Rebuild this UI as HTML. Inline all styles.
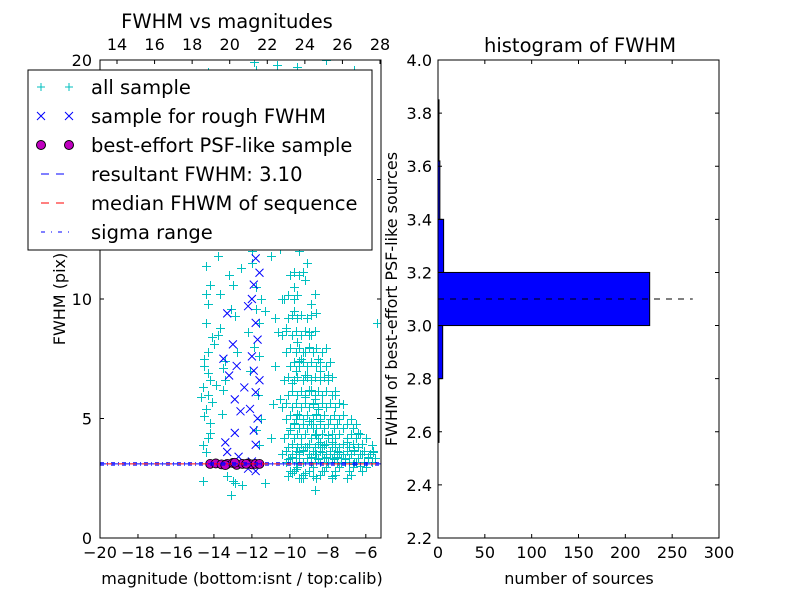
<!DOCTYPE html>
<html><head><meta charset="utf-8"><style>
body{margin:0;background:#fff}
svg{display:block;font-family:"DejaVu Sans","Liberation Sans",sans-serif}
</style></head><body>
<svg id="c" width="800" height="600"></svg>
<script>
// ---- left scatter data (magnitude, fwhm)
const allMag=[-14.4,-14.3,-14.2,-14.4,-14.3,-14.2,-14.5,-14.3,-14.1,-14.4,-14.3,-14.2,-14.4,-14.0,-14.3,-14.5,-14.2,-14.4,-14.1,-14.3,-13.8,-13.5,-13.2,-13.9,-13.4,-13.1,-13.6,-13.0,-12.8,-13.7,-12.6,-12.2,-12.0,-11.8,-11.6,-11.9,-12.1,-11.7,-11.5,-11.8,-12.0,-11.6,-11.9,-11.7,-11.8,-12.1,-11.6,-11.9,-11.3,-11.0,-10.8,-11.2,-10.6,-10.9,-10.4,-10.2,-10.0,-9.8,-9.6,-9.4,-9.2,-9.0,-8.8,-8.6,-8.4,-8.2,-8.0,-7.8,-7.6,-7.4,-10.1,-9.9,-9.7,-9.5,-9.3,-9.1,-8.9,-8.7,-8.5,-8.3,-8.1,-7.9,-7.7,-7.5,-7.3,-7.1,-6.9,-6.7,-6.5,-6.3,-10.0,-9.8,-9.6,-9.4,-9.2,-9.0,-8.8,-8.6,-8.4,-8.2,-9.9,-9.7,-9.5,-9.3,-9.1,-8.9,-8.7,-8.5,-10.2,-9.6,-9.0,-8.4,-9.8,-9.2,-8.6,-9.5,-9.1,-8.7,-9.9,-9.4,-8.9,-10.3,-9.7,-9.3,-7.0,-6.6,-6.2,-5.9,-5.6,-6.8,-6.4,-6.0,-5.7,-7.2,-8.0,-8.5,-9.0,-7.6,-10.5,-10.8,-11.0,-9.7,-9.2,-8.8,-10.0,-9.5,-13.0,-12.9,-13.3,-10.7,-9.6,-8.1,-7.2,-6.6,-5.4,-9.0,-11.3,-13.1,-12.5,-10.1,-9.3,-8.7,-9.9,-8.2,-7.8,-9.4,
-14.6,-14.2,-14.5,-14.1,-14.6,-14.3,-14.5,-14.0,-13.7,-13.9,-13.5,-14.7,-14.6,-14.4,-13.8,-13.6,-12.9,-12.4,-12.7,-13.2,-11.5,-11.7,-11.9,-11.6,-12.0,-11.8,-11.4,-11.7,-11.9,-11.5,-11.8,-12.2,-11.6,-13.4,-12.6,-13.0,-10.5,-11.1,-10.2,-12.3,-13.6,-10.9];
const allFwhm=[3.6,4.2,4.8,5.4,6.0,6.6,7.2,7.8,8.4,9.0,9.8,10.6,11.4,12.3,13.2,14.1,15.2,16.5,18.0,19.5,8.5,6.2,11.0,13.5,7.4,9.6,5.2,15.0,7.8,10.2,18.5,14.0,12.0,10.5,9.0,8.0,7.0,6.0,5.0,4.5,11.5,13.0,16.0,17.5,19.6,15.5,3.9,19.9,9.5,11.8,7.2,14.6,8.6,5.6,10.0,12.5,11.0,9.5,8.2,7.5,6.8,6.2,5.6,5.2,4.9,4.6,4.3,4.0,3.8,3.6,3.3,3.4,3.5,3.6,3.7,3.8,3.4,3.5,3.3,3.6,3.4,3.5,3.3,3.4,3.2,3.3,3.2,3.1,3.2,3.0,4.5,4.8,5.2,5.5,5.9,4.9,4.6,4.3,4.0,3.9,6.5,7.0,7.4,7.8,6.8,6.2,5.8,5.4,8.8,9.2,8.0,7.0,10.5,10.8,9.4,12.0,11.5,10.2,13.5,12.8,9.8,14.5,16.2,18.5,4.0,3.7,3.5,3.4,3.6,5.0,4.4,4.2,3.9,5.6,6.8,7.5,8.6,6.0,5.8,9.2,4.2,2.9,2.7,2.6,2.8,2.5,2.4,2.3,2.6,19.8,19.7,20.0,16.8,19.6,9.0,8.5,2.3,1.8,2.2,2.6,2.5,2.0,2.7,2.8,2.6,2.5,2.4,
4.4,5.1,5.7,6.3,6.9,7.5,8.1,8.8,6.4,7.1,5.9,3.9,10.2,11.8,12.6,9.3,12.8,14.6,16.3,17.2,12.8,13.6,14.4,15.1,16.8,17.9,18.6,19.2,10.0,9.6,8.6,7.6,6.6,11.3,10.6,12.1,13.0,16.1,15.4,17.0,12.4,17.8];
// dense blob rows: each row shares one FWHM value
const blobF=[2.5,2.8,3.2,3.5,3.8,4.2,4.6,5.0,5.5,6.0,6.6,7.2,7.8,8.5,9.2,10.0,11.0];
const blobM=[[-9.5,-8.6,-7.8,-7.0],[-9.8,-9.0,-8.3,-7.6,-6.9,-6.2],[-10.2,-9.7,-9.3,-8.9,-8.4,-8.0,-7.5,-7.1,-6.6,-6.1,-5.7],[-10.4,-9.9,-9.5,-9.0,-8.6,-8.1,-7.7,-7.2,-6.8,-6.3,-5.8],[-10.1,-9.6,-9.2,-8.7,-8.3,-7.8,-7.4,-6.9,-6.4],[-10.3,-9.8,-9.4,-8.9,-8.5,-8.0,-7.6,-7.0,-6.5],[-10.0,-9.5,-9.1,-8.6,-8.2,-7.7,-7.2,-6.7],[-10.2,-9.7,-9.3,-8.8,-8.4,-7.9,-7.4],[-10.4,-9.9,-9.4,-9.0,-8.5,-8.1,-7.6],[-10.1,-9.6,-9.2,-8.7,-8.3,-7.8],[-10.3,-9.8,-9.3,-8.9,-8.4,-8.0],[-10.0,-9.5,-9.1,-8.6,-8.1],[-10.2,-9.7,-9.2,-8.8,-8.3],[-10.4,-9.9,-9.4,-8.9],[-10.1,-9.6,-9.1],[-10.3,-9.8],[-10.0,-9.5]];
const roughMag=[-13.5,-13.2,-12.9,-13.3,-12.6,-12.9,-13.4,-12.4,-12.8,-13.0,-13.3,-12.7,-12.2,-12.0,-11.8,-11.9,-11.7,-12.1,-11.8,-11.6,-11.9,-12.0,-11.7,-11.8,-12.2,-11.9,-11.6,-11.8,-12.0,-11.7,-11.9,-12.1,-11.8,-11.7,-12.0,-11.8];
const roughFwhm=[7.5,6.8,5.8,9.4,5.3,4.4,4.0,6.3,7.2,8.1,3.6,3.4,2.9,3.2,3.9,4.5,5.0,5.4,6.1,6.6,7.0,7.6,8.3,9.0,9.7,10.6,11.1,11.7,12.4,13.3,14.0,14.7,15.5,13.0,10.0,2.8];
const bestMag=[-14.2,-13.9,-13.6,-13.3,-13.0,-12.8,-12.5,-12.2,-12.0,-11.8,-11.6,-13.4,-12.9,-12.3];
const bestFwhm=[3.1,3.12,3.08,3.1,3.14,3.06,3.1,3.12,3.08,3.1,3.1,3.05,3.15,3.1];
const resultantFWHM=3.10;
// ---- histogram data
const binLo=[2.56,2.8,3.0,3.2,3.4,3.62];
const binHi=[2.8,3.0,3.2,3.4,3.62,3.85];
const binCount=[1,5,226,6,2,1];
const xTickL=[-20,-18,-16,-14,-12,-10,-8,-6];
const yTickL=[0,5,10,15,20];
const topTick=[14,16,18,20,22,24,26,28];
const xTickR=[0,50,100,150,200,250,300];
const yTickR=[2.2,2.4,2.6,2.8,3.0,3.2,3.4,3.6,3.8,4.0];

const S=document.getElementById('c'),NS='http://www.w3.org/2000/svg';
function el(t,a,p){const e=document.createElementNS(NS,t);for(const k in a)e.setAttribute(k,a[k]);(p||S).appendChild(e);return e;}
const L={x0:100,x1:381,y0:60,y1:538};
const lx=m=>L.x0+(m+20)*(L.x1-L.x0)/14.8, ly=f=>L.y1-f*(L.y1-L.y0)/20;
const tx=v=>117+(v-14)*(380-117)/14;
const cp=el('clipPath',{id:'cl'});el('rect',{x:L.x0,y:L.y0,width:L.x1-L.x0,height:L.y1-L.y0},cp);
const gL=el('g',{'clip-path':'url(#cl)'});
function plus(m,f){const x=Math.round(lx(m))+0.5,y=Math.round(ly(f))+0.5;
 const p=el('path',{d:`M${x-4.5},${y}H${x+4.5}M${x},${y-4.5}V${y+4.5}`,stroke:'#00bfbf','stroke-width':1},gL);
 }
for(let i=0;i<allMag.length;i++)plus(allMag[i],allFwhm[i]);
for(let r=0;r<blobF.length;r++)for(const m of blobM[r]){plus(m,blobF[r]);plus(m+0.2,blobF[r]+0.15);}
for(let i=0;i<roughMag.length;i++){const x=lx(roughMag[i]),y=ly(roughFwhm[i]);
 const p=el('path',{d:`M${x-4},${y-4}L${x+4},${y+4}M${x-4},${y+4}L${x+4},${y-4}`,stroke:'#0000ff','stroke-width':1},gL);
 }
for(let i=0;i<bestMag.length;i++){const c=el('circle',{cx:lx(bestMag[i]),cy:ly(bestFwhm[i]),r:4.5,fill:'#bf00bf',stroke:'#000','stroke-width':0.8},gL);
 }
let ln=el('line',{x1:L.x0,x2:L.x1,y1:ly(resultantFWHM),y2:ly(resultantFWHM),stroke:'#f00','stroke-dasharray':'6,6','stroke-dashoffset':6},gL);

ln=el('line',{x1:L.x0,x2:L.x1,y1:ly(resultantFWHM),y2:ly(resultantFWHM),stroke:'#00f','stroke-dasharray':'6,6'},gL);

for(const d of [-0.05,0.05]){ln=el('line',{x1:L.x0,x2:L.x1,y1:ly(resultantFWHM+d),y2:ly(resultantFWHM+d),stroke:'#00f','stroke-dasharray':'4,3,1,3'},gL);
 }
el('rect',{x:L.x0,y:L.y0,width:L.x1-L.x0,height:L.y1-L.y0,fill:'none',stroke:'#000'});
function txt(x,y,s,o){const t=el('text',Object.assign({x:x,y:y,'font-size':16,'text-anchor':'middle',fill:'#000'},o||{}));t.textContent=s;return t;}
xTickL.forEach(v=>{const x=lx(v);el('path',{d:`M${x},${L.y1}v-4`,stroke:'#000'});txt(x,558,v<0?'\u2212'+(-v):v);});
yTickL.forEach(v=>{const y=ly(v);el('path',{d:`M${L.x0},${y}h4M${L.x1},${y}h-4`,stroke:'#000'});txt(92,y+6,v,{'text-anchor':'end'});});
topTick.forEach(v=>{const x=tx(v);el('path',{d:`M${x},${L.y0}v4`,stroke:'#000'});txt(x,50,v);});
let t=txt(227,28,'FWHM vs magnitudes',{'font-size':19.5});
t=txt(242,584,'magnitude (bottom:isnt / top:calib)');
t=txt(0,0,'FWHM (pix)',{transform:'translate(65,299) rotate(-90)'});
const lg=el('g',{});
el('rect',{x:28,y:70,width:344,height:180,fill:'#fff',stroke:'#000'},lg);
const labs=['all sample','sample for rough FWHM','best-effort PSF-like sample','resultant FWHM: 3.10','median FHWM of sequence','sigma range'];
labs.forEach((s,i)=>{const y=87+i*29;
 if(i==0)[41,69].forEach(x=>el('path',{d:`M${x-4},${y}H${x+4}M${x},${y-4}V${y+4}`,stroke:'#00bfbf'},lg));
 if(i==1)[41,69].forEach(x=>el('path',{d:`M${x-4},${y-4}L${x+4},${y+4}M${x-4},${y+4}L${x+4},${y-4}`,stroke:'#00f'},lg));
 if(i==2)[41,69].forEach(x=>el('circle',{cx:x,cy:y,r:4.5,fill:'#bf00bf',stroke:'#000'},lg));
 if(i==3)el('line',{x1:41,x2:69,y1:y,y2:y,stroke:'#00f','stroke-dasharray':'8,7'},lg);
 if(i==4)el('line',{x1:41,x2:69,y1:y,y2:y,stroke:'#f00','stroke-dasharray':'8,7'},lg);
 if(i==5)el('line',{x1:41,x2:69,y1:y,y2:y,stroke:'#00f','stroke-dasharray':'4,6,1,6'},lg);
 const e=txt(91,y+7,s,{'text-anchor':'start','font-size':19.5});lg.appendChild(e);
 });
const R={x0:438,x1:719,y0:60,y1:538};
const rx=n=>R.x0+n*(R.x1-R.x0)/300, ry=f=>R.y1-(f-2.2)*(R.y1-R.y0)/1.8;
for(let i=0;i<binCount.length;i++){const b=el('rect',{x:R.x0,y:ry(binHi[i]),width:Math.max(rx(binCount[i])-R.x0,1),height:ry(binLo[i])-ry(binHi[i]),fill:'#0000ff',stroke:'#000'});
 }
ln=el('line',{x1:R.x0,x2:rx(272),y1:ry(resultantFWHM),y2:ry(resultantFWHM),stroke:'#000','stroke-dasharray':'6,6'});

el('rect',{x:R.x0,y:R.y0,width:R.x1-R.x0,height:R.y1-R.y0,fill:'none',stroke:'#000'});
xTickR.forEach(v=>{const x=rx(v);el('path',{d:`M${x},${R.y1}v-4M${x},${R.y0}v4`,stroke:'#000'});txt(x,558,v);});
yTickR.forEach(v=>{const y=ry(v);el('path',{d:`M${R.x0},${y}h4M${R.x1},${y}h-4`,stroke:'#000'});txt(432,y+6,v.toFixed(1),{'text-anchor':'end'});});
t=txt(580,52,'histogram of FWHM',{'font-size':19.5});
t=txt(579,584,'number of sources');
t=txt(0,0,'FWHM of best-effort PSF-like sources',{transform:'translate(397,299) rotate(-90)'});
</script>
</body></html>
